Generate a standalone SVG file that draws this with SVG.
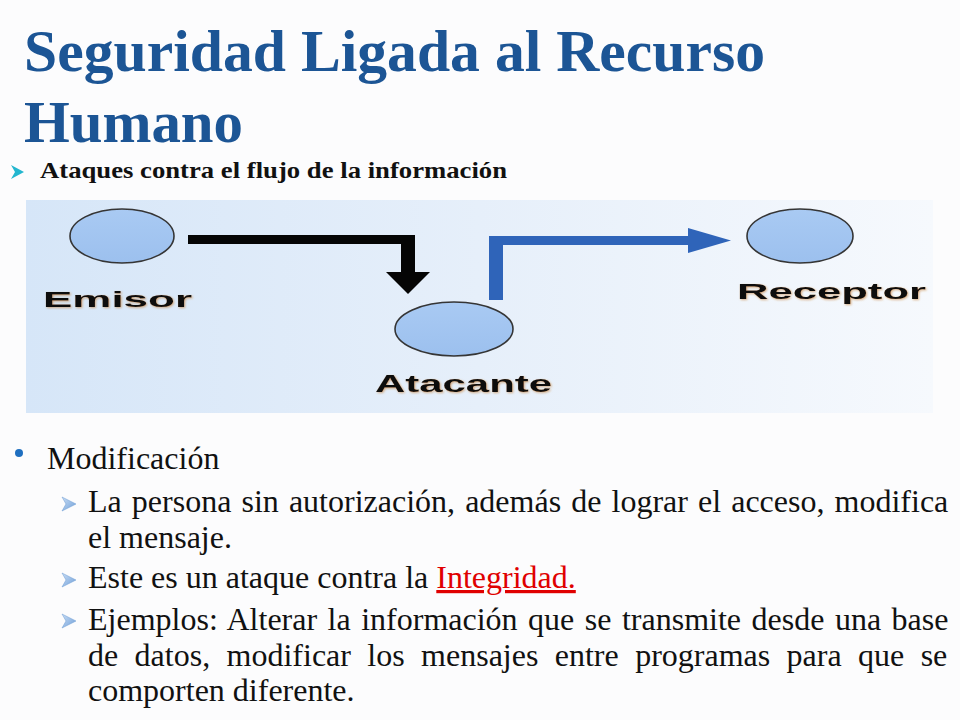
<svg xmlns="http://www.w3.org/2000/svg" width="960" height="720" viewBox="0 0 960 720">
<defs>
<linearGradient id="panel" x1="0" y1="0" x2="1" y2="0">
<stop offset="0" stop-color="#d6e6f8"/>
<stop offset="0.5" stop-color="#e6effa"/>
<stop offset="1" stop-color="#f6f9fd"/>
</linearGradient>
<linearGradient id="node" x1="0" y1="0" x2="0" y2="1">
<stop offset="0" stop-color="#a9caf3"/>
<stop offset="1" stop-color="#9cc0ee"/>
</linearGradient>
<linearGradient id="bul" x1="0" y1="0" x2="1" y2="1">
<stop offset="0" stop-color="#c9ddf5"/>
<stop offset="1" stop-color="#6f9fd8"/>
</linearGradient>
<filter id="glow" x="-10%" y="-30%" width="120%" height="160%">
<feDropShadow dx="1" dy="1" stdDeviation="0.8" flood-color="#c07020" flood-opacity="0.55"/>
</filter>
</defs>
<style>
.title{font-family:"Liberation Serif","Times New Roman",serif;font-weight:bold;font-size:60px;fill:#1c5595}
.sub{font-family:"Liberation Serif","Times New Roman",serif;font-weight:bold;font-size:23px;fill:#111}
.lbl{font-family:"Liberation Sans",Arial,sans-serif;font-weight:bold;font-size:22px;fill:#111}
.body{font-family:"Liberation Serif","Times New Roman",serif;font-size:32px;fill:#111}
.nd{fill:url(#node);stroke:#353535;stroke-width:1.6}
.ab{fill:url(#bul);stroke:#6b9bd3;stroke-width:0.5}
</style>
<rect width="960" height="720" fill="#fcfcfd"/>

<text class="title" x="24" y="71" textLength="741" lengthAdjust="spacingAndGlyphs">Seguridad Ligada al Recurso</text>
<text class="title" x="24" y="142" textLength="219" lengthAdjust="spacingAndGlyphs">Humano</text>

<polygon points="11,165 24,172 11,179 15,172" fill="#22b6cf"/>
<text class="sub" x="40" y="178" textLength="467" lengthAdjust="spacingAndGlyphs">Ataques contra el flujo de la información</text>

<rect x="26" y="200" width="907" height="213" fill="url(#panel)"/>

<g id="connectors">
<g id="attack-arrow" fill="#050505">
<rect x="188" y="235" width="227" height="9"/>
<rect x="401" y="235" width="14" height="38"/>
<polygon points="386,272 430,272 408,294"/>
</g>
<g id="forward-arrow" fill="#2f64b9">
<rect x="489" y="237" width="14" height="63"/>
<rect x="489" y="236" width="201" height="9"/>
<polygon points="688,228 731,240.5 688,253"/>
</g>
</g>

<g id="emisor">
<ellipse class="nd" cx="122" cy="236" rx="52" ry="27"/>
<text class="lbl" x="43" y="307" textLength="149" lengthAdjust="spacingAndGlyphs" filter="url(#glow)">Emisor</text>
</g>
<g id="atacante">
<ellipse class="nd" cx="454" cy="329" rx="59" ry="27"/>
<text class="lbl" x="375" y="392" textLength="177" lengthAdjust="spacingAndGlyphs" style="font-size:24px" filter="url(#glow)">Atacante</text>
</g>
<g id="receptor">
<ellipse class="nd" cx="800" cy="236" rx="53" ry="27"/>
<text class="lbl" x="737" y="299" textLength="189" lengthAdjust="spacingAndGlyphs" filter="url(#glow)">Receptor</text>
</g>

<circle cx="19" cy="453" r="4" fill="#1f6fc0"/>
<text class="body" x="47" y="469">Modificación</text>

<polygon class="ab" points="62,497 76,504 62,511 66,504"/>
<text class="body" x="88" y="512" word-spacing="2.1">La persona sin autorización, además de lograr el acceso, modifica</text>
<text class="body" x="88" y="548">el mensaje.</text>

<polygon class="ab" points="62,573 76,580 62,587 66,580"/>
<text class="body" x="88" y="588">Este es un ataque contra la <tspan fill="#e00000" text-decoration="underline">Integridad.</tspan></text>

<polygon class="ab" points="62,614 76,621 62,628 66,621"/>
<text class="body" x="88" y="630" word-spacing="2.5">Ejemplos: Alterar la información que se transmite desde una base</text>
<text class="body" x="88" y="666" word-spacing="8.4">de datos, modificar los mensajes entre programas para que se</text>
<text class="body" x="88" y="701">comporten diferente.</text>
</svg>
